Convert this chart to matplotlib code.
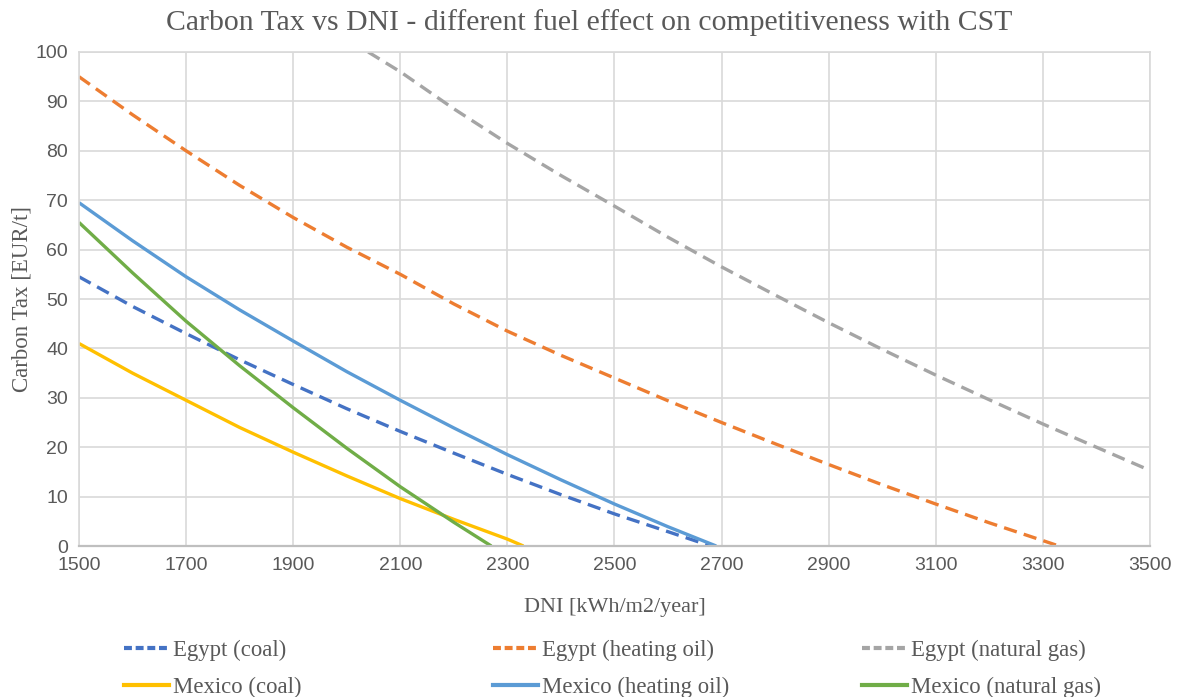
import matplotlib
matplotlib.use("Agg")
import matplotlib.pyplot as plt
from matplotlib.lines import Line2D

# DNI [kWh/m2/year] and break-even carbon tax [EUR/t] for each case
egypt_coal_x = [1500, 1600, 1700, 1800, 1900, 2000, 2100, 2200, 2300, 2400, 2500, 2600, 2680]
egypt_coal_y = [54.5, 48.5, 43.0, 37.7, 32.7, 27.8, 23.2, 18.8, 14.5, 10.4, 6.5, 2.9, 0.0]

egypt_oil_x = [1500, 1600, 1700, 1800, 1900, 2000, 2100, 2200, 2300, 2400, 2500, 2600,
               2700, 2800, 2900, 3000, 3100, 3200, 3300, 3330]
egypt_oil_y = [95.0, 87.3, 80.0, 73.0, 66.5, 60.5, 55.0, 49.0, 43.5, 38.6, 34.0, 29.4,
               25.0, 20.7, 16.5, 12.4, 8.5, 4.7, 1.1, 0.0]

egypt_gas_x = [2040, 2100, 2200, 2300, 2400, 2500, 2600, 2700, 2800, 2900, 3000, 3100,
               3200, 3300, 3400, 3500]
egypt_gas_y = [100.0, 96.0, 88.5, 81.5, 75.0, 68.8, 62.5, 56.5, 50.8, 45.2, 39.8, 34.6,
               29.6, 24.7, 20.0, 15.3]

mexico_coal_x = [1500, 1600, 1700, 1800, 1900, 2000, 2100, 2200, 2300, 2330]
mexico_coal_y = [41.0, 35.0, 29.5, 24.0, 19.0, 14.2, 9.6, 5.4, 1.4, 0.0]

mexico_oil_x = [1500, 1600, 1700, 1800, 1900, 2000, 2100, 2200, 2300, 2400, 2500, 2600, 2690]
mexico_oil_y = [69.5, 61.8, 54.5, 47.8, 41.5, 35.3, 29.5, 23.9, 18.5, 13.4, 8.5, 3.9, 0.0]

mexico_gas_x = [1500, 1600, 1700, 1800, 1900, 2000, 2100, 2200, 2270]
mexico_gas_y = [65.5, 55.3, 45.5, 36.5, 28.0, 19.8, 12.0, 4.8, 0.0]

x_ticks = [1500, 1700, 1900, 2100, 2300, 2500, 2700, 2900, 3100, 3300, 3500]
y_ticks = [0, 10, 20, 30, 40, 50, 60, 70, 80, 90, 100]

TEXT = "#595959"
SERIF = "Liberation Serif"
SANS = "Liberation Sans"

fig = plt.figure(figsize=(11.79, 6.97), dpi=100)
ax = fig.add_axes([0.067, 0.2166, 0.9084, 0.7088])

series = [
    ("Egypt (coal)", egypt_coal_x, egypt_coal_y, "#4472C4", True),
    ("Egypt (heating oil)", egypt_oil_x, egypt_oil_y, "#ED7D31", True),
    ("Egypt (natural gas)", egypt_gas_x, egypt_gas_y, "#A5A5A5", True),
    ("Mexico (coal)", mexico_coal_x, mexico_coal_y, "#FFC000", False),
    ("Mexico (heating oil)", mexico_oil_x, mexico_oil_y, "#5B9BD5", False),
    ("Mexico (natural gas)", mexico_gas_x, mexico_gas_y, "#70AD47", False),
]

handles = {}
for label, xs, ys, color, dashed in series:
    kw = dict(color=color, lw=2.4, solid_capstyle="butt", dash_capstyle="butt",
              solid_joinstyle="round")
    if dashed:
        kw["dashes"] = (4.0, 2.2)
    ax.plot(xs, ys, label=label, **kw)
    handles[label] = Line2D([], [], color=color, lw=3.0,
                            dashes=(1.9, 0.9) if dashed else (None, None))

ax.set_xlim(1500, 3500)
ax.set_ylim(0, 100)
ax.set_xticks(x_ticks)
ax.set_yticks(y_ticks)
ax.grid(True, color="#D9D9D9", lw=1.2)
ax.set_axisbelow(True)
for side in ("left", "right", "top"):
    ax.spines[side].set_color("#D9D9D9")
    ax.spines[side].set_linewidth(1.2)
ax.spines["bottom"].set_color("#BFBFBF")
ax.spines["bottom"].set_linewidth(1.6)
ax.tick_params(length=0, labelsize=14, labelcolor=TEXT)
ax.tick_params(axis="x", pad=8)
ax.tick_params(axis="y", pad=8)
for t in ax.get_xticklabels() + ax.get_yticklabels():
    t.set_fontfamily(SANS)

ax.set_xlabel("DNI [kWh/m2/year]", fontsize=16, family=SERIF, color=TEXT, labelpad=17)
ax.set_ylabel("Carbon Tax [EUR/t]", fontsize=16.5, family=SERIF, color=TEXT, labelpad=2)
fig.text(0.5, 0.968, "Carbon Tax vs DNI - different fuel effect on competitiveness with CST",
         ha="center", va="center", fontsize=21.4, family=SERIF, color=TEXT)

# Three legend columns, each pairing the Egypt and Mexico curves of one fuel
columns = [
    (0.105, ["Egypt (coal)", "Mexico (coal)"]),
    (0.418, ["Egypt (heating oil)", "Mexico (heating oil)"]),
    (0.731, ["Egypt (natural gas)", "Mexico (natural gas)"]),
]
for x0, labels in columns:
    leg = fig.legend([handles[l] for l in labels], labels, loc="upper left",
                     bbox_to_anchor=(x0, 0.082), frameon=False,
                     prop={"family": SERIF, "size": 16.4}, handlelength=2.0,
                     handletextpad=0.15, labelspacing=0.68, borderaxespad=0,
                     borderpad=0)
    for t in leg.get_texts():
        t.set_color(TEXT)

fig.savefig("out.png", dpi=100)
